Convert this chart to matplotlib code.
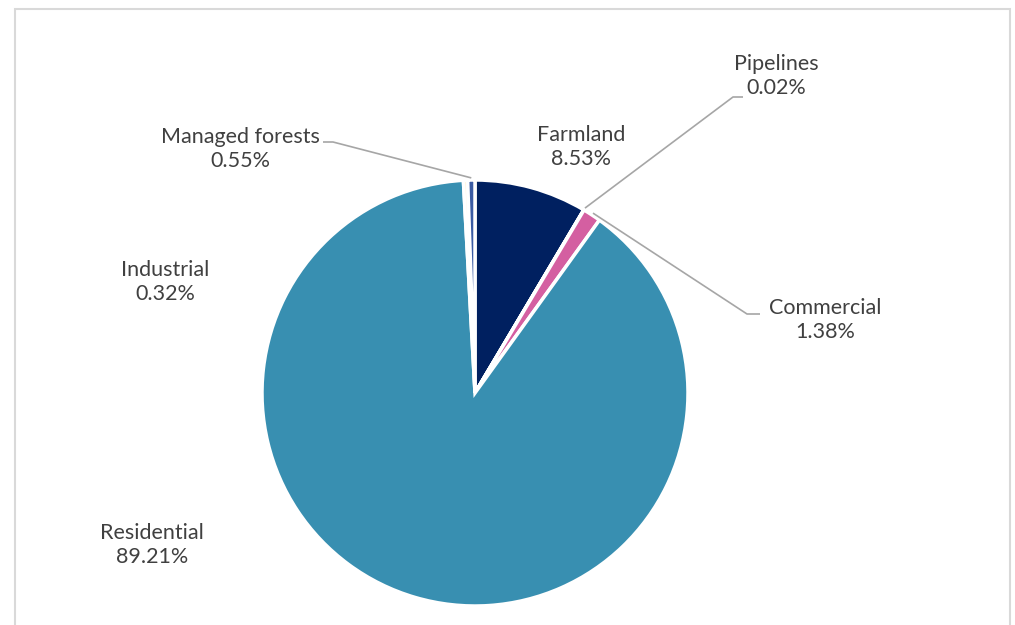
import numpy as np
import matplotlib
matplotlib.use("Agg")
import matplotlib.pyplot as plt
from matplotlib.patches import Rectangle

# data, clockwise from 12 o'clock
labels = ["Farmland", "Pipelines", "Commercial", "Residential", "Industrial", "Managed forests"]
shares = [8.53, 0.02, 1.38, 89.21, 0.32, 0.55]
colors = ["#002060", "#7f7f7f", "#d45fa1", "#388fb1", "#fff6dc", "#3a5ba3"]

W, H = 1015, 625
fig = plt.figure(figsize=(W / 100, H / 100), dpi=100)
ax = fig.add_axes([0, 0, 1, 1])

# chart frame (bottom edge is off the picture)
ax.add_patch(Rectangle((15, -10), 995, H - 9 + 10, fill=False, edgecolor="#d9d9d9", linewidth=1.5))

cx, cy, R = 475, H - 393, 213
wedges, _ = ax.pie(shares, startangle=90, counterclock=False, colors=colors,
                   center=(cx, cy), radius=R, frame=True,
                   wedgeprops=dict(edgecolor="white", linewidth=2.5))
ax.set_xlim(0, W)
ax.set_ylim(0, H)
ax.set_aspect("equal")
ax.axis("off")

txt = "#404040"
fs = 15.5
fam = ["Lato", "DejaVu Sans"]

def edge_point(w):
    ang = np.deg2rad((w.theta1 + w.theta2) / 2)
    return cx + R * 1.01 * np.cos(ang), cy + R * 1.01 * np.sin(ang)

# label centre (px from top-left) and leader elbow points, pie side first
pos = {
    "Farmland": (581, 147, None),
    "Pipelines": (776, 76, [(733, 97), (743, 97)]),
    "Commercial": (825, 320, [(747, 314), (760, 314)]),
    "Residential": (152, 545, None),
    "Industrial": (165, 282, None),
    "Managed forests": (240, 149, [(333, 142), (323, 142)]),
}

for w, lab, val in zip(wedges, labels, shares):
    x, y, line = pos[lab]
    ax.text(x, H - y, f"{lab}\n{val:.2f}%", ha="center", va="center", fontsize=fs,
            color=txt, family=fam, linespacing=1.3)
    if line:
        pts = [edge_point(w)] + [(px, H - py) for px, py in line]
        xs, ys = zip(*pts)
        ax.plot(xs, ys, color="#a6a6a6", linewidth=1.2, solid_capstyle="butt")

fig.savefig("out.png", dpi=100)
